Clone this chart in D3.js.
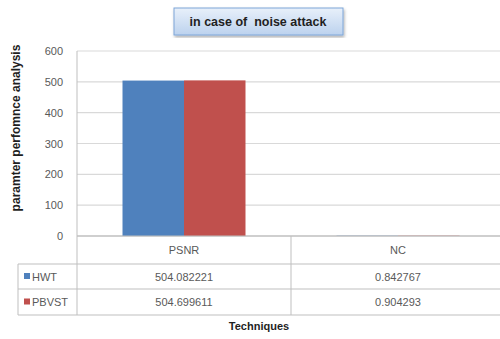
<!DOCTYPE html>
<html>
<head>
<meta charset="utf-8">
<script src="https://cdn.jsdelivr.net/npm/d3@7"></script>
<style>
  body { margin: 0; background: #fff; }
  text { font-family: "Liberation Sans", Arial, sans-serif; }
</style>
</head>
<body>
<div id="chart"></div>
<script>
// Data
var categories = ["PSNR", "NC"];
var seriesNames = ["HWT", "PBVST"];
var hwtValues = [504.082221, 0.842767];
var pbvstValues = [504.699611, 0.904293];
var hwtLabels = ["504.082221", "0.842767"];
var pbvstLabels = ["504.699611", "0.904293"];
var yTicks = [0, 100, 200, 300, 400, 500, 600];
var colors = ["#4f81bd", "#c0504d"];

var width = 500, height = 339;
var margin = {top: 51, left: 77, right: -5, bottom: 103};
var plotW = width - margin.left - margin.right,
    plotH = height - margin.top - margin.bottom;
var rowH = [28, 25, 26];
var tableLeft = -59;

var svg = d3.select("#chart").append("svg")
  .attr("width", width)
  .attr("height", height);

// Title box with gradient
var defs = svg.append("defs");
var grad = defs.append("linearGradient")
  .attr("id", "titleGrad")
  .attr("x1", 0).attr("y1", 0).attr("x2", 0).attr("y2", 1);
grad.append("stop").attr("offset", "0%").attr("stop-color", "#e8f0fa");
grad.append("stop").attr("offset", "100%").attr("stop-color", "#bcd2ee");
var shadow = defs.append("filter").attr("id", "shadow");
shadow.append("feDropShadow").attr("dx", 1).attr("dy", 2).attr("stdDeviation", 1.5)
  .attr("flood-color", "#000").attr("flood-opacity", 0.3);

svg.append("rect")
  .attr("x", 174).attr("y", 8)
  .attr("width", 169).attr("height", 27)
  .attr("fill", "url(#titleGrad)")
  .attr("stroke", "#7ea6d8")
  .attr("filter", "url(#shadow)");
svg.append("text")
  .attr("x", 258).attr("y", 26)
  .attr("text-anchor", "middle")
  .style("font-size", "12.5px")
  .style("font-weight", "bold")
  .style("white-space", "pre")
  .attr("fill", "#1f1f1f")
  .text("in case of  noise attack");

var g = svg.append("g")
  .attr("transform", "translate(" + margin.left + "," + margin.top + ")");

// Scales
var x = d3.scaleBand().domain(categories).range([0, plotW]);
var x1 = d3.scaleBand().domain(seriesNames).range([0, x.bandwidth()]).paddingOuter(0.74);
var y = d3.scaleLinear().domain([0, 600]).range([plotH, 0]);

// Gridlines
g.selectAll(".grid")
  .data(yTicks)
  .enter().append("line")
  .attr("class", "grid")
  .attr("x1", 0).attr("x2", plotW)
  .attr("y1", function(d){ return y(d); })
  .attr("y2", function(d){ return y(d); })
  .attr("stroke", function(d){ return d === 0 ? "#bfbfbf" : "#d9d9d9"; })
  .attr("stroke-width", 1.2);

// Y axis
var yAxis = d3.axisLeft(y).tickValues(yTicks).tickSize(0).tickPadding(14);
var yg = g.append("g").call(yAxis);
yg.select(".domain").remove();
yg.selectAll("text")
  .style("font-size", "11px")
  .attr("fill", "#595959");

g.append("line")
  .attr("x1", 0).attr("x2", 0)
  .attr("y1", 0).attr("y2", plotH + rowH[0] + rowH[1] + rowH[2])
  .attr("stroke", "#bfbfbf");

// Bars
var series = [hwtValues, pbvstValues];
seriesNames.forEach(function(name, i){
  g.selectAll(".bar-" + i)
    .data(categories)
    .enter().append("rect")
    .attr("class", "bar-" + i)
    .attr("x", function(d){ return x(d) + x1(name); })
    .attr("width", x1.bandwidth())
    .attr("y", function(d, j){ return y(series[i][j]); })
    .attr("height", function(d, j){ return plotH - y(series[i][j]); })
    .attr("fill", colors[i]);
});

// Data table
var t = g.append("g").attr("transform", "translate(0," + plotH + ")");
var rowY = [0, rowH[0], rowH[0] + rowH[1], rowH[0] + rowH[1] + rowH[2]];

// horizontal rules
t.append("line").attr("x1", 0).attr("x2", plotW).attr("y1", 0).attr("y2", 0).attr("stroke", "#bfbfbf");
[1, 2, 3].forEach(function(r){
  t.append("line")
    .attr("x1", tableLeft).attr("x2", plotW)
    .attr("y1", rowY[r]).attr("y2", rowY[r])
    .attr("stroke", "#bfbfbf");
});
// vertical rules
t.append("line").attr("x1", tableLeft).attr("x2", tableLeft)
  .attr("y1", rowY[1]).attr("y2", rowY[3]).attr("stroke", "#bfbfbf");
categories.forEach(function(c, j){
  if (j > 0) {
    t.append("line").attr("x1", x(c)).attr("x2", x(c))
      .attr("y1", 0).attr("y2", rowY[3]).attr("stroke", "#bfbfbf");
  }
});

// header
t.selectAll(".cat")
  .data(categories)
  .enter().append("text")
  .attr("x", function(d){ return x(d) + x.bandwidth() / 2; })
  .attr("y", rowY[0] + rowH[0] / 2 + 4)
  .attr("text-anchor", "middle")
  .style("font-size", "11px")
  .attr("fill", "#595959")
  .text(function(d){ return d; });

var labels = [hwtLabels, pbvstLabels];
seriesNames.forEach(function(name, i){
  var cy = rowY[i + 1] + rowH[i + 1] / 2;
  t.append("rect")
    .attr("x", tableLeft + 6).attr("y", cy - 3.5)
    .attr("width", 6).attr("height", 6)
    .attr("fill", colors[i]);
  t.append("text")
    .attr("x", tableLeft + 14).attr("y", cy + 4)
    .style("font-size", "11px")
    .attr("fill", "#595959")
    .text(name);
  t.selectAll(".val-" + i)
    .data(categories)
    .enter().append("text")
    .attr("x", function(d){ return x(d) + x.bandwidth() / 2; })
    .attr("y", cy + 4)
    .attr("text-anchor", "middle")
    .style("font-size", "11px")
    .attr("fill", "#595959")
    .text(function(d, j){ return labels[i][j]; });
});

// Axis titles
svg.append("text")
  .attr("transform", "translate(20,128)rotate(-90)")
  .attr("text-anchor", "middle")
  .style("font-size", "12px")
  .style("font-weight", "bold")
  .attr("fill", "#1f1f1f")
  .text("paramter perfomnce analysis");

svg.append("text")
  .attr("x", 259).attr("y", 330)
  .attr("text-anchor", "middle")
  .style("font-size", "11px")
  .style("font-weight", "bold")
  .attr("fill", "#1f1f1f")
  .text("Techniques");
</script>
</body>
</html>
